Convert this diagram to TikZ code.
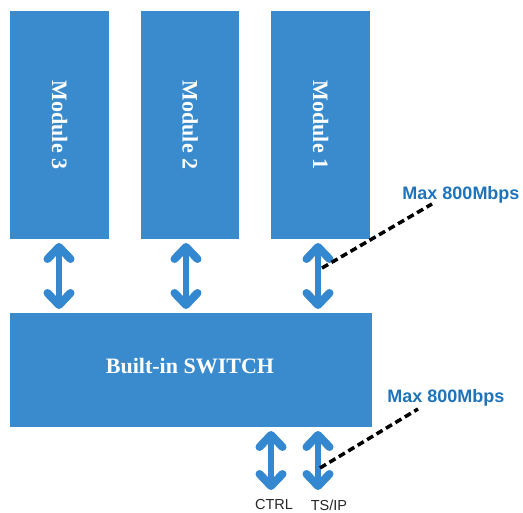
\documentclass[tikz,border=0pt]{standalone}
\usepackage{fontspec}
\setmainfont{Liberation Serif}
\newfontfamily\arial{Liberation Sans}
\usetikzlibrary{arrows.meta}
\definecolor{boxblue}{HTML}{3A8BCD}
\definecolor{arrowblue}{HTML}{3388CF}
\definecolor{labelblue}{HTML}{1F73BA}
\tikzset{
  blockbox/.style={fill=boxblue, draw=none, inner sep=0pt, text=white, font=\fontsize{22}{26}\selectfont\bfseries},
  dblarrow/.style={draw=arrowblue, line width=6pt,
    {Straight Barb[length=12pt,width=23pt,line width=8pt,round]}-{Straight Barb[length=12pt,width=23pt,line width=8pt,round]}, shorten <=4pt, shorten >=4pt},
  ratelabel/.style={text=labelblue, font=\arial\fontsize{18}{21}\selectfont\bfseries, inner sep=0pt},
  portlabel/.style={text=black!85, font=\arial\fontsize{14.5}{17}\selectfont, inner sep=0pt},
  dashline/.style={draw=black, line width=3.5pt, dash pattern=on 7pt off 4pt}
}
\begin{document}
\begin{tikzpicture}[x=1pt,y=-1pt]
\useasboundingbox (0,0) rectangle (523,513);
% modules
\node[blockbox, minimum width=99pt, minimum height=228pt] (m3) at (59.5,125) {};
\node[blockbox, minimum width=98pt, minimum height=228pt] (m2) at (190,125) {};
\node[blockbox, minimum width=99pt, minimum height=228pt] (m1) at (320.5,125) {};
\node[text=white, font=\fontsize{22}{26}\selectfont\bfseries, rotate=-90] (t3) at (m3.center) {Module 3};
\node[text=white, font=\fontsize{22}{26}\selectfont\bfseries, rotate=-90] (t2) at (m2.center) {Module 2};
\node[text=white, font=\fontsize{22}{26}\selectfont\bfseries, rotate=-90] (t1) at (m1.center) {Module 1};
% switch
\node[blockbox, minimum width=362pt, minimum height=114pt] (sw) at (191,370) {};
\node[text=white, font=\fontsize{22}{26}\selectfont\bfseries] (swt) at (190,366) {Built-in SWITCH};
% arrows modules <-> switch
\coordinate (a3t) at (59,239); \coordinate (a3b) at (59,313);
\coordinate (a2t) at (186,239); \coordinate (a2b) at (186,313);
\coordinate (a1t) at (318,239); \coordinate (a1b) at (318,313);
\draw[dblarrow] (a3t) -- (a3b);
\draw[dblarrow] (a2t) -- (a2b);
\draw[dblarrow] (a1t) -- (a1b);
% bottom ports
\coordinate (ct) at (271,427); \coordinate (cb) at (271,494);
\coordinate (tt) at (318,427); \coordinate (tb) at (318,494);
\draw[dblarrow] (ct) -- (cb);
\draw[dblarrow] (tt) -- (tb);
\node[portlabel] (ctrl) at (274,505) {CTRL};
\node[portlabel] (tsip) at (329,505) {TS/IP};
% rate labels
\node[ratelabel] (r1) at (461,195) {Max 800Mbps};
\node[ratelabel] (r2) at (446,398) {Max 800Mbps};
\coordinate (d1a) at (322,268); \coordinate (d1b) at (432,204);
\coordinate (d2a) at (320,468); \coordinate (d2b) at (418,409);
\draw[dashline] (d1a) -- (d1b);
\draw[dashline] (d2a) -- (d2b);
\end{tikzpicture}
\end{document}
